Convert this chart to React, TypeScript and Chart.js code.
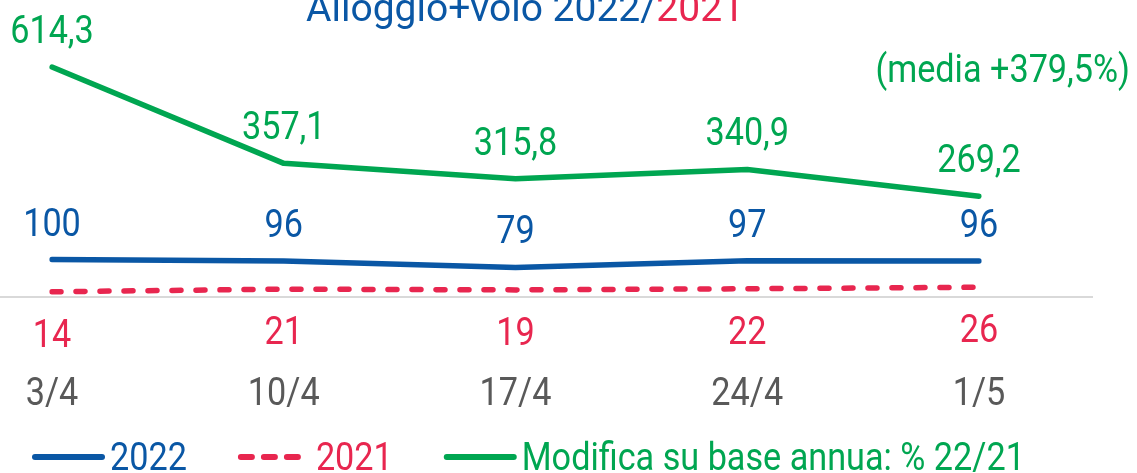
import React, { useEffect, useRef } from "react";
import { Chart, registerables } from "chart.js";

Chart.register(...registerables);

const categories = ["3/4", "10/4", "17/4", "24/4", "1/5"];
const values2022 = [100, 96, 79, 97, 96];
const values2021 = [14, 21, 19, 22, 26];
const valuesChange = [614.3, 357.1, 315.8, 340.9, 269.2];
const seriesLabels = ["2022", "2021", "Modifica su base annua: % 22/21"];
const titleParts = ["Alloggio+volo 2022/", "2021"];
const noteText = "(media +379,5%)";

const BLUE = "#0A57A5";
const RED = "#E8264F";
const GREEN = "#00A651";
const GRAY = "#595959";
const FONT = "Roboto, 'Noto Sans', sans-serif";
const SIZE = 38;
const SX = 0.9;
const LW = 5.5;

function drawText(
  ctx: CanvasRenderingContext2D,
  text: string,
  x: number,
  y: number,
  color: string,
  align: CanvasTextAlign = "center",
  size = SIZE,
  sx = SX
) {
  ctx.save();
  ctx.translate(x, y);
  ctx.scale(sx, 1);
  ctx.font = `${size}px ${FONT}`;
  ctx.fillStyle = color;
  ctx.textAlign = align;
  ctx.textBaseline = "alphabetic";
  ctx.fillText(text, 0, 0);
  ctx.restore();
}

function textWidth(ctx: CanvasRenderingContext2D, text: string, size = SIZE, sx = SX) {
  ctx.save();
  ctx.font = `${size}px ${FONT}`;
  const w = ctx.measureText(text).width * sx;
  ctx.restore();
  return w;
}

const decorPlugin = {
  id: "decor",
  beforeDatasetsDraw(chart: any) {
    const ctx = chart.ctx as CanvasRenderingContext2D;
    const y0 = chart.scales.y.getPixelForValue(0);
    ctx.save();
    ctx.strokeStyle = "#D9D9D9";
    ctx.lineWidth = 2;
    ctx.beginPath();
    ctx.moveTo(0, y0);
    ctx.lineTo(1093, y0);
    ctx.stroke();
    ctx.restore();
  },
  afterDatasetsDraw(chart: any) {
    const ctx = chart.ctx as CanvasRenderingContext2D;
    const xs = chart.scales.x;

    // tick labels
    categories.forEach((c, i) => {
      drawText(ctx, c, xs.getPixelForValue(i), 405, GRAY);
    });

    // data labels
    const m0 = chart.getDatasetMeta(0);
    const m1 = chart.getDatasetMeta(1);
    const m2 = chart.getDatasetMeta(2);
    values2022.forEach((v, i) => {
      const p = m0.data[i];
      drawText(ctx, String(v), p.x, p.y - 24, BLUE);
    });
    values2021.forEach((v, i) => {
      const p = m1.data[i];
      drawText(ctx, String(v), p.x, p.y + 55, RED);
    });
    valuesChange.forEach((v, i) => {
      const p = m2.data[i];
      drawText(ctx, v.toFixed(1).replace(".", ","), p.x, p.y - 24, GREEN);
    });

    // title
    const tSize = 39;
    const w1 = textWidth(ctx, titleParts[0], tSize, 1);
    const w2 = textWidth(ctx, titleParts[1], tSize, 1);
    const tx = 525 - (w1 + w2) / 2;
    drawText(ctx, titleParts[0], tx, 21, BLUE, "left", tSize, 1);
    drawText(ctx, titleParts[1], tx + w1, 21, RED, "left", tSize, 1);

    // note
    drawText(ctx, noteText, 1130, 82, GREEN, "right");

    // legend
    const colors = [BLUE, RED, GREEN];
    const dashes = [[], [11, 12], []];
    let x = 32;
    const ly = 457;
    seriesLabels.forEach((lab, i) => {
      ctx.save();
      ctx.strokeStyle = colors[i];
      ctx.lineWidth = 6;
      ctx.lineCap = "round";
      ctx.setLineDash(dashes[i]);
      ctx.beginPath();
      ctx.moveTo(x + 3, ly);
      ctx.lineTo(x + 70, ly);
      ctx.stroke();
      ctx.restore();
      x += 78;
      drawText(ctx, lab, x, 470, colors[i], "left");
      x += textWidth(ctx, lab) + 51;
    });
  },
};

export default function App() {
  const ref = useRef<HTMLCanvasElement | null>(null);
  useEffect(() => {
    document.body.style.margin = "0";
    const common = {
      borderWidth: LW,
      borderCapStyle: "round",
      borderJoinStyle: "round",
      pointRadius: 0,
      tension: 0,
    };
    const chart = new Chart(ref.current as HTMLCanvasElement, {
      type: "line",
      data: {
        labels: categories,
        datasets: [
          { ...common, label: seriesLabels[0], data: values2022, borderColor: BLUE },
          {
            ...common,
            label: seriesLabels[1],
            data: values2021,
            borderColor: RED,
            borderDash: [9, 15],
          },
          { ...common, label: seriesLabels[2], data: valuesChange, borderColor: GREEN },
        ],
      },
      options: {
        responsive: false,
        animation: false,
        devicePixelRatio: 1,
        layout: { padding: { left: 52, right: 158, top: 35, bottom: 176 } },
        scales: {
          x: { display: false, offset: false },
          y: { display: false, min: 0, max: 700 },
        },
        plugins: {
          legend: { display: false },
          tooltip: { enabled: false },
          title: { display: false },
        },
      },
      plugins: [decorPlugin],
    } as any);
    return () => chart.destroy();
  }, []);
  return (
    <div style={{ position: "absolute", left: 0, top: 0, width: 1137, height: 473 }}>
      <canvas ref={ref} width={1137} height={473} />
    </div>
  );
}
